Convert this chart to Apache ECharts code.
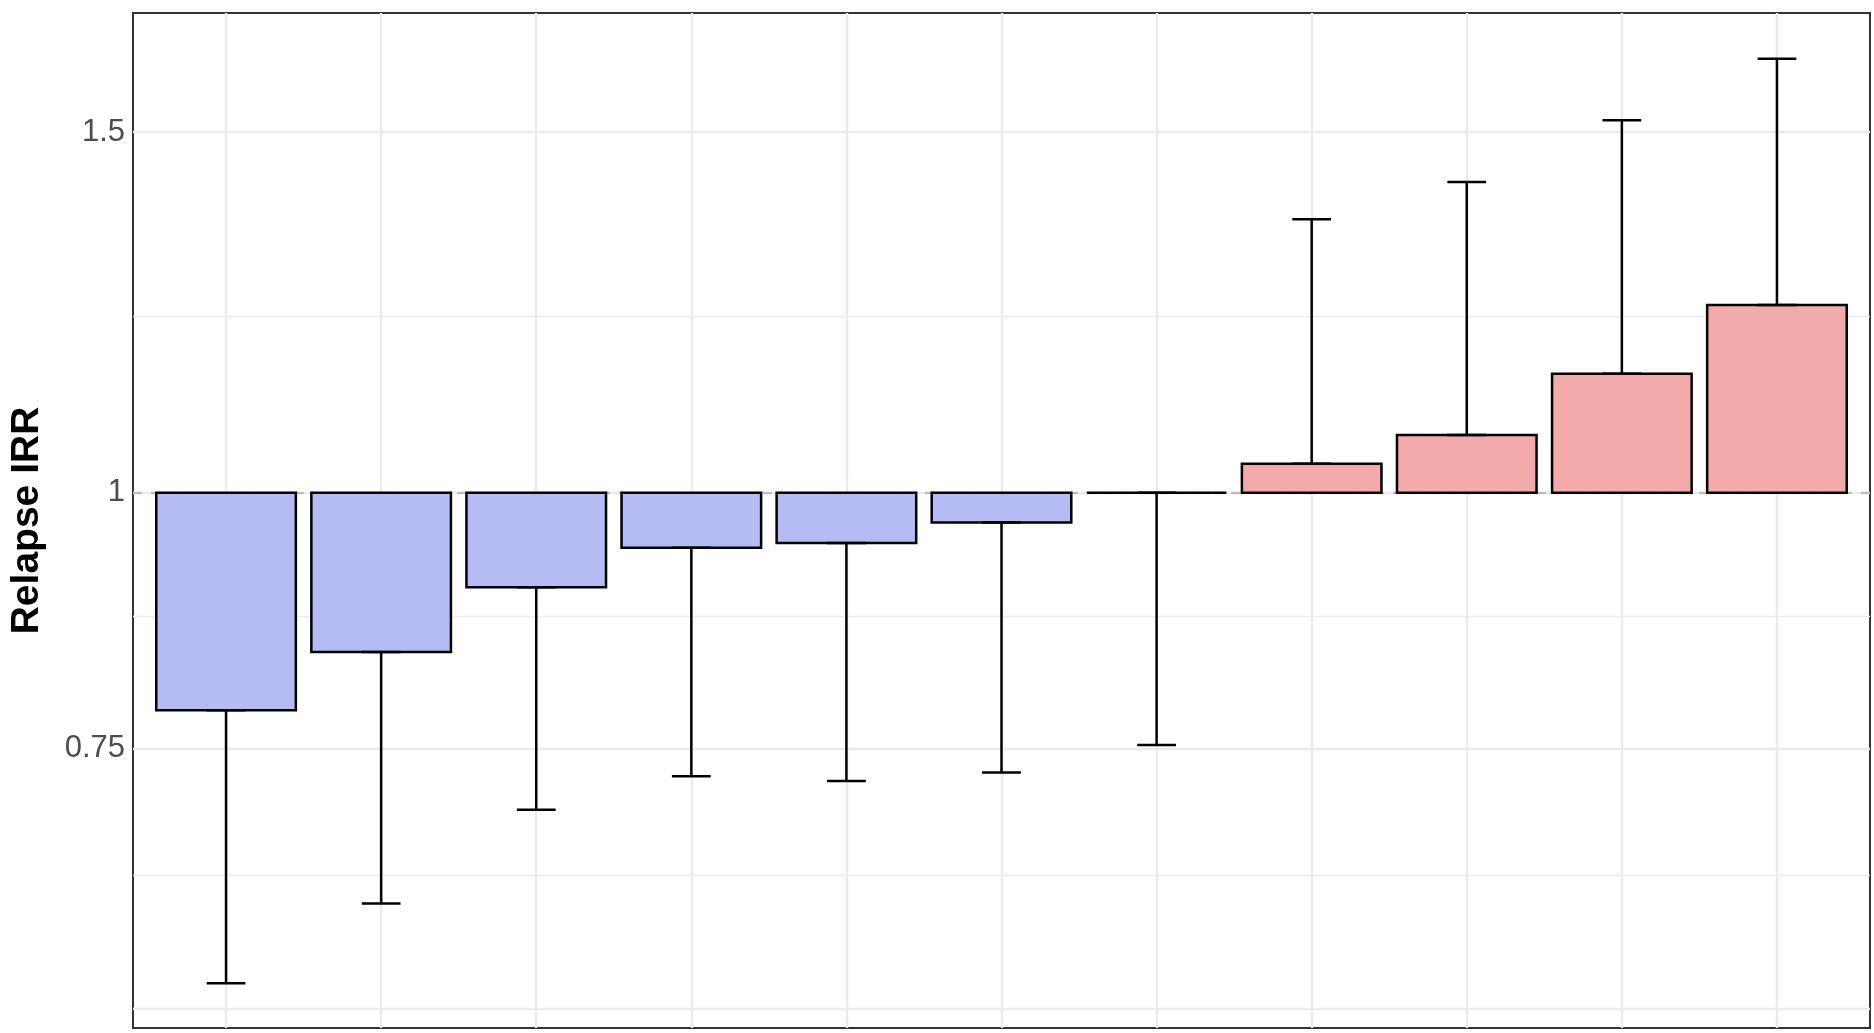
<!DOCTYPE html>
<html>
<head>
<meta charset="utf-8">
<title>Relapse IRR</title>
<script src="https://cdn.jsdelivr.net/npm/echarts@6/dist/echarts.min.js"></script>
<style>
  html, body { margin: 0; padding: 0; background: #fff; }
  #chart { width: 1874px; height: 1033px; }
</style>
</head>
<body>
<div id="chart"></div>
<script>
  // point estimates (bar ends) and the far end of each interval
  var irr = [0.783, 0.836, 0.899, 0.940, 0.945, 0.967, 1.000, 1.033, 1.067, 1.143, 1.235];
  var ciBound = [0.576, 0.630, 0.700, 0.727, 0.723, 0.730, 0.753, 1.360, 1.418, 1.520, 1.629];

  var yTicks = [0.75, 1, 1.5];
  var yMajorGrid = [0.5625, 0.75, 1, 1.5];
  var yMinorGrid = [0.6495, 0.866, 1.2247];
  var refLine = 1;

  var chart = echarts.init(document.getElementById('chart'));

  var seriesData = irr.map(function (v, i) {
    return [i, v, ciBound[i]];
  });

  function fillFor(v) {
    if (v < 1) return '#B4BBF5';
    if (v > 1) return '#F2AAAA';
    return 'none';
  }

  function renderItem(params, api) {
    var i = api.value(0), est = api.value(1), ci = api.value(2);
    var base = api.coord([i, 1]);
    var top = api.coord([i, est]);
    var end = api.coord([i, ci]);
    var bw = api.size([0.9, 0], [i, 1])[0];
    var cw = api.size([0.25, 0], [i, 1])[0];
    var line = { stroke: '#000', lineWidth: 2.5 };
    return {
      type: 'group',
      children: [
        {
          type: 'rect',
          shape: { x: base[0] - bw / 2, y: Math.min(base[1], top[1]), width: bw, height: Math.abs(top[1] - base[1]) },
          style: { fill: fillFor(est), stroke: '#000', lineWidth: 2.5 }
        },
        { type: 'line', shape: { x1: top[0], y1: top[1], x2: end[0], y2: end[1] }, style: line },
        { type: 'line', shape: { x1: top[0] - cw / 2, y1: top[1], x2: top[0] + cw / 2, y2: top[1] }, style: line },
        { type: 'line', shape: { x1: end[0] - cw / 2, y1: end[1], x2: end[0] + cw / 2, y2: end[1] }, style: line }
      ]
    };
  }

  var gridLines = [];
  irr.forEach(function (v, i) {
    gridLines.push({ xAxis: i, lineStyle: { color: '#EBEBEB', width: 2.4, type: 'solid' } });
  });
  yMajorGrid.forEach(function (v) {
    gridLines.push({ yAxis: v, lineStyle: { color: '#EBEBEB', width: 2.4, type: 'solid' } });
  });
  yMinorGrid.forEach(function (v) {
    gridLines.push({ yAxis: v, lineStyle: { color: '#EBEBEB', width: 1.3, type: 'solid' } });
  });
  gridLines.push({ yAxis: refLine, lineStyle: { color: '#BDBDBD', width: 2.2, type: [9, 9] } });

  chart.setOption({
    animation: false,
    backgroundColor: '#fff',
    textStyle: { fontFamily: 'Liberation Sans, Arial, sans-serif' },
    grid: {
      left: 133, top: 13, right: 4, bottom: 5,
      show: true, borderColor: '#333', borderWidth: 2, backgroundColor: 'transparent'
    },
    xAxis: {
      type: 'value', min: -0.6, max: 10.6,
      axisLine: { show: false }, axisTick: { show: false },
      axisLabel: { show: false }, splitLine: { show: false }
    },
    yAxis: {
      type: 'log', min: 0.5477, max: 1.715,
      name: 'Relapse IRR', nameLocation: 'middle', nameGap: 86,
      nameTextStyle: { fontSize: 39, fontWeight: 'bold', color: '#000', fontFamily: 'Liberation Sans, Arial, sans-serif' },
      axisLine: { show: false },
      axisTick: { show: true, length: 7, customValues: yTicks, lineStyle: { color: '#333', width: 2 } },
      axisLabel: {
        customValues: yTicks, fontSize: 31, color: '#4D4D4D', margin: 8,
        formatter: function (v) { return String(+(+v).toPrecision(3)); }
      },
      splitLine: { show: false },
      minorSplitLine: { show: false }
    },
    series: [
      {
        type: 'line', data: [], silent: true, z: 1,
        markLine: { silent: true, z: 1, symbol: 'none', label: { show: false }, animation: false, data: gridLines }
      },
      {
        type: 'custom', renderItem: renderItem, data: seriesData, z: 3,
        encode: { x: 0, y: 1 }, clip: false
      }
    ]
  });
</script>
</body>
</html>
